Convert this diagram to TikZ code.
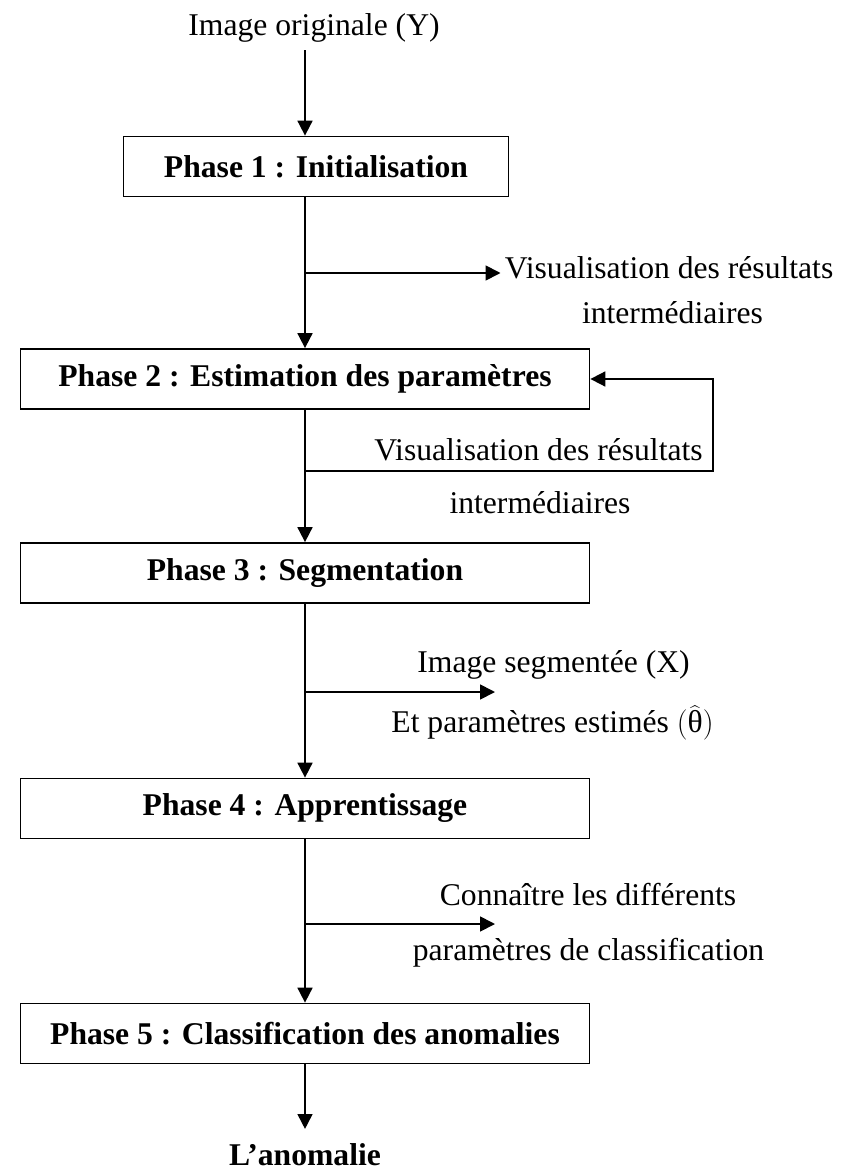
\documentclass[tikz,border=0pt]{standalone}
\usepackage{fontspec}
\setmainfont{Liberation Serif}
\usepackage{tikz}
\usetikzlibrary{arrows.meta,positioning}

\tikzset{
    txt/.style={font=\fontsize{18}{22}\selectfont},
    phase/.style={draw,line width=1pt,minimum height=1.2cm,
        font=\fontsize{18}{22}\selectfont\bfseries},
    >={Triangle[length=8.5pt,width=8.5pt]}
}

\begin{document}
\begin{tikzpicture}[line width=1pt]
    \useasboundingbox (0,0) rectangle (16.98,-23.48);

    % the five phases
    \node[phase,minimum width=7.7cm]  (p1) at (6.32,-3.33)  {Phase 1 : Initialisation};
    \node[phase,minimum width=11.38cm] (p2) at (6.1,-7.58)  {Phase 2 : Estimation des paramètres};
    \node[phase,minimum width=11.38cm] (p3) at (6.1,-11.46) {Phase 3 : Segmentation};
    \node[phase,minimum width=11.38cm] (p4) at (6.1,-16.17) {Phase 4 : Apprentissage};
    \node[phase,minimum width=11.38cm] (p5) at (6.1,-20.67) {Phase 5 : Classification des anomalies};

    % input and output
    \node[txt,inner sep=0pt] (img) at (6.28,-0.56) {Image originale (Y)};
    \node[txt,inner sep=0pt,font=\fontsize{18}{22}\selectfont\bfseries] (res) at (6.1,-23.1) {L’anomalie};

    % side texts
    \node[txt,anchor=west,inner sep=2pt] (vis1) at (10.01,-5.36) {Visualisation des résultats};
    \node[txt] (int1) at (13.45,-6.26) {intermédiaires};
    \node[txt] (vis2) at (10.77,-9.0) {Visualisation des résultats};
    \node[txt] (int2) at (10.8,-10.06) {intermédiaires};
    \node[txt,inner sep=1pt] (seg) at (11.07,-13.3) {Image segmentée (X)};
    \node[txt,inner sep=1pt] (est) at (11.05,-14.46) {Et paramètres estimés $\bigl(\widehat{\mbox{θ}}\bigr)$};
    \node[txt] (con) at (11.76,-17.9) {Connaître les différents};
    \node[txt] (cla) at (11.77,-19.06) {paramètres de classification};

    % branch points on the main line
    \coordinate (b1) at (6.1,-5.46);
    \coordinate (fb) at (6.1,-9.42);
    \coordinate (fbr) at (14.26,-9.42);
    \coordinate (b3) at (6.1,-13.84);
    \coordinate (b3e) at (9.9,-13.84);
    \coordinate (b4) at (6.1,-18.48);
    \coordinate (b4e) at (9.9,-18.48);

    % main flow
    \draw[->,shorten <=4pt] (img.south -| p2.north) -- (p1.north -| p2.north);
    \draw[->] (p1.south -| p2.north) -- (p2.north);
    \draw[->] (p2.south) -- (p3.north);
    \draw[->] (p3.south) -- (p4.north);
    \draw[->] (p4.south) -- (p5.north);
    \draw[->,shorten >=8pt] (p5.south) -- (res.north);

    % outputs and feedback
    \draw[->] (b1) -- (b1 -| vis1.west);
    \draw[->] (fb) -- (fbr) |- (p2.east);
    \draw[->] (b3) -- (b3e);
    \draw[->] (b4) -- (b4e);
\end{tikzpicture}
\end{document}
